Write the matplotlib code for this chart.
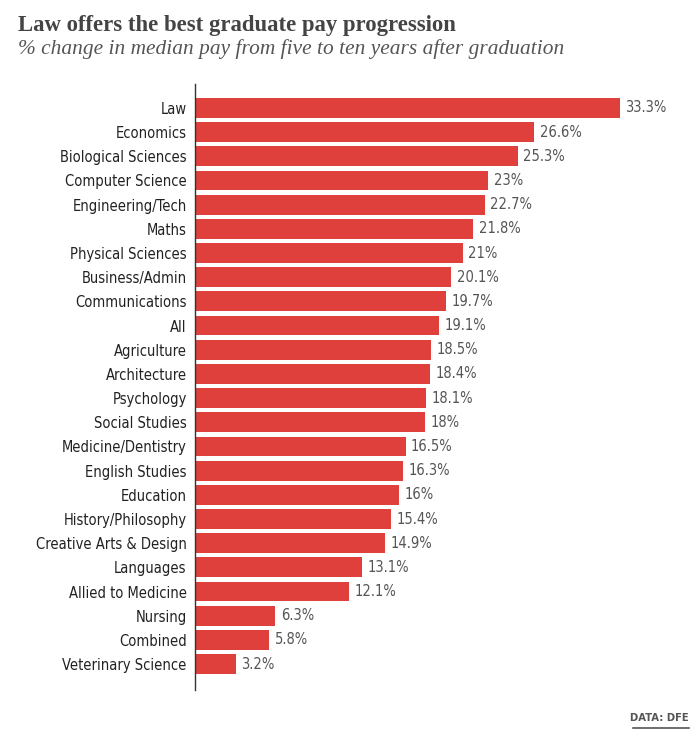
import matplotlib
matplotlib.use("Agg")
from matplotlib import pyplot as plt

subjects = ["Law", "Economics", "Biological Sciences", "Computer Science", "Engineering/Tech",
            "Maths", "Physical Sciences", "Business/Admin", "Communications", "All",
            "Agriculture", "Architecture", "Psychology", "Social Studies", "Medicine/Dentistry",
            "English Studies", "Education", "History/Philosophy", "Creative Arts & Design",
            "Languages", "Allied to Medicine", "Nursing", "Combined", "Veterinary Science"]
change = [33.3, 26.6, 25.3, 23, 22.7, 21.8, 21, 20.1, 19.7, 19.1, 18.5, 18.4, 18.1, 18,
          16.5, 16.3, 16, 15.4, 14.9, 13.1, 12.1, 6.3, 5.8, 3.2]
value_labels = ["33.3%", "26.6%", "25.3%", "23%", "22.7%", "21.8%", "21%", "20.1%", "19.7%",
                "19.1%", "18.5%", "18.4%", "18.1%", "18%", "16.5%", "16.3%", "16%", "15.4%",
                "14.9%", "13.1%", "12.1%", "6.3%", "5.8%", "3.2%"]

W, H = 698, 741
fig = plt.figure(figsize=(W / 100, H / 100), dpi=100)
ax = fig.add_axes([195 / W, 1 - 690 / H, (690 - 195) / W, (690 - 84) / H])

label_font = dict(family="DejaVu Sans", stretch="condensed", size=10.5)

y = range(len(subjects))
ax.barh(y, change, height=0.82, color="#e0403b", edgecolor="none")
ax.set_ylim(24.07, -0.99)
ax.set_xlim(0, 38.8)
ax.set_yticks(list(y))
ax.set_yticklabels(subjects, color="#222222", **label_font)
ax.tick_params(axis="y", length=0, pad=6)
ax.set_xticks([])
for s in ["top", "right", "bottom"]:
    ax.spines[s].set_visible(False)
ax.spines["left"].set_color("#333333")
ax.spines["left"].set_linewidth(1.0)

for i, v in enumerate(change):
    ax.annotate(value_labels[i], (v, i), xytext=(4, 0), textcoords="offset points",
                va="center", ha="left", color="#555555", **label_font)

fig.text(18 / W, 1 - 25 / H, "Law offers the best graduate pay progression",
         family="Liberation Serif", weight="bold", size=16.4, color="#444444", va="center")
fig.text(18 / W, 1 - 49 / H, "% change in median pay from five to ten years after graduation",
         family="Liberation Serif", style="italic", size=15.4, color="#555555", va="center")
fig.text(689 / W, 1 - 718 / H, "DATA: DFE", family="DejaVu Sans", stretch="condensed",
         weight="bold", size=8, color="#555555", ha="right", va="center")
fig.add_artist(plt.Line2D([633 / W, 689 / W], [1 - 728 / H, 1 - 728 / H],
                          transform=fig.transFigure, color="#555555", lw=1.2))

fig.savefig("out.png", dpi=100, facecolor="white")
